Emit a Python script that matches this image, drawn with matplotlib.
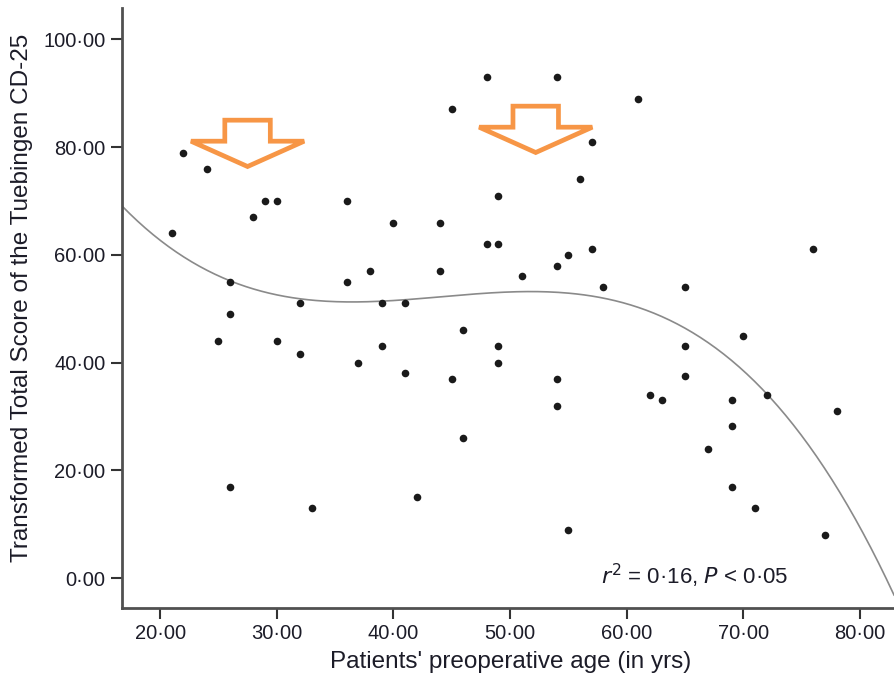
'''
Scatter of Tuebingen CD-25 score against preoperative age, with cubic fit
'''

import numpy as np
import matplotlib
matplotlib.use('Agg')
import matplotlib.pyplot as plt
from matplotlib.patches import FancyArrow

plt.rcParams['font.family'] = ['Liberation Sans', 'DejaVu Sans']

# patients' age (yrs) and transformed CD-25 total score
age = [21, 22, 24, 25, 26, 26, 26, 28, 29, 30, 30, 32, 32, 33, 36, 36, 37, 38,
       39, 39, 40, 41, 41, 42, 44, 44, 45, 45, 46, 46, 48, 48, 49, 49, 49, 49,
       51, 54, 54, 54, 54, 55, 55, 56, 57, 57, 58, 61, 62, 63, 65, 65, 65, 67,
       69, 69, 69, 70, 71, 72, 76, 77, 78]
score = [64, 79, 76, 44, 55, 49, 17, 67, 70, 70, 44, 51, 41.6, 13, 70, 55, 40, 57,
         51, 43, 66, 51, 38, 15, 66, 57, 87, 37, 46, 26, 93, 62, 62, 71, 43, 40,
         56, 93, 58, 37, 32, 60, 9, 74, 81, 61, 54, 89, 34, 33, 54, 43, 37.5, 24,
         33, 28.3, 17, 45, 13, 34, 61, 8, 31]

xticks = [20, 30, 40, 50, 60, 70, 80]
yticks = [0, 20, 40, 60, 80, 100]
stats_text = r'$\it{r}^2$ = 0·16, $\it{P}$ < 0·05'

txt = '#1c1c28'
spine = '#505050'
orange = '#f79646'

fig = plt.figure(figsize=(8.94, 6.75), dpi=100)
ax = fig.add_axes([0.1365, 0.1, 0.8635, 0.888])

ax.scatter(age, score, s=30, color='#1a1a1a', zorder=3, linewidths=0)

# cubic fit
coef = np.polyfit(age, score, 3)
xs = np.linspace(16.74, 82.91, 300)
ax.plot(xs, np.polyval(coef, xs), color='#8a8a8a', lw=1.2, zorder=2)

# hollow orange arrows
for xc, ytop in [(27.5, 85.0), (52.2, 87.6)]:
    ax.add_patch(FancyArrow(xc, ytop, 0, -8.6, width=3.9, head_width=9.7,
                            head_length=4.7, length_includes_head=True,
                            facecolor='white', edgecolor=orange, lw=3.4,
                            joinstyle='miter', zorder=4))

fig.text(0.672, 0.147, stats_text, fontsize=16, color=txt,
         va='center', ha='left')

ax.set_xlim(16.74, 82.91)
ax.set_ylim(-5.44, 105.8)
ax.set_xticks(xticks)
ax.set_yticks(yticks)
ax.set_xticklabels([f'{v}·00' for v in xticks])
ax.set_yticklabels([f'{v}·00' for v in yticks])
ax.tick_params(direction='out', length=8, width=1.5, color='#333333',
               labelsize=14.5, labelcolor=txt, pad=4)

for s in ['top', 'right']:
    ax.spines[s].set_visible(False)
for s in ['left', 'bottom']:
    ax.spines[s].set_color(spine)
    ax.spines[s].set_linewidth(2)

fig.text(0.571, 0.019, "Patients' preoperative age (in yrs)", ha='center',
         va='center', fontsize=17.5, color=txt)
fig.text(0.0246, 0.558, 'Transformed Total Score of the Tuebingen CD-25',
         rotation=90, ha='center', va='center', fontsize=17.5, color=txt)

fig.savefig('out.png', dpi=100)
